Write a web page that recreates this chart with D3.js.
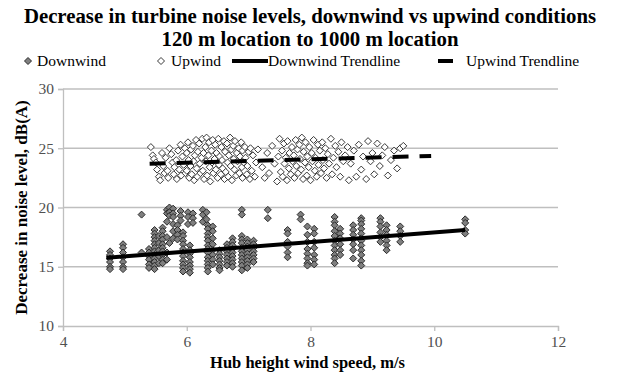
<!DOCTYPE html>
<html>
<head>
<meta charset="utf-8">
<script src="https://cdn.jsdelivr.net/npm/d3@7"></script>
<style>
  body { margin: 0; background: #fff; }
  svg { display: block; }
</style>
</head>
<body>
<svg id="chart" width="619" height="381"></svg>
<script>
// Titles and axis texts
const titleLines = ["Decrease in turbine noise levels, downwind vs upwind conditions",
                    "120 m location to 1000 m location"];
const xTitle = "Hub height wind speed, m/s";
const yTitle = "Decrease in noise level, dB(A)";
const xTicks = [4, 6, 8, 10, 12];
const yTicks = [10, 15, 20, 25, 30];
const legendLabels = ["Downwind", "Upwind", "Downwind Trendline", "Upwind Trendline"];

// Downwind measurements: [hub height wind speed (m/s), decrease (dB(A))]
const downwind = [
  [4.76,16.3],[4.76,16.0],[4.76,15.7],[4.76,15.4],[4.76,15.0],[4.76,14.8],
  [4.97,16.9],[4.97,16.6],[4.97,16.2],[4.97,15.8],[4.97,15.4],[4.97,15.0],[4.97,14.8],
  [5.27,19.4],[5.27,16.2],
  [5.39,16.5],[5.39,16.2],[5.39,15.9],[5.39,15.6],[5.39,15.2],[5.39,14.9],
  [5.48,18.1],[5.48,17.8],[5.48,17.5],[5.48,17.2],[5.48,16.9],[5.48,16.6],[5.48,16.3],[5.48,16.0],[5.48,15.7],[5.48,15.4],[5.48,15.1],[5.48,14.8],
  [5.55,17.6],[5.55,17.0],[5.55,16.4],[5.55,15.9],[5.55,15.3],
  [5.61,18.3],[5.61,18.0],[5.61,17.6],[5.61,17.3],[5.61,16.9],[5.61,16.6],[5.61,16.3],[5.61,16.0],[5.61,15.6],[5.61,15.3],
  [5.68,19.8],[5.68,19.5],[5.68,18.8],[5.68,17.5],[5.68,16.2],[5.68,15.6],
  [5.72,20.0],[5.72,19.6],[5.72,19.3],[5.72,17.0],
  [5.78,19.9],[5.78,19.5],[5.78,19.2],[5.78,18.6],[5.78,18.0],[5.78,17.4],
  [5.85,18.5],[5.85,18.1],[5.85,17.7],[5.85,17.3],
  [5.90,19.7],[5.90,19.3],[5.90,18.9],
  [5.94,17.9],[5.94,17.6],[5.94,17.2],[5.94,16.9],[5.94,16.5],[5.94,16.2],[5.94,15.9],[5.94,15.5],[5.94,15.2],[5.94,14.9],[5.94,14.6],
  [6.02,19.6],[6.02,19.2],[6.02,18.6],
  [6.05,16.8],[6.05,16.4],[6.05,16.1],[6.05,15.8],[6.05,15.4],[6.05,15.1],[6.05,14.8],[6.05,14.5],
  [6.10,19.5],[6.10,19.1],[6.10,18.7],
  [6.26,19.8],[6.26,19.4],[6.26,18.8],
  [6.32,19.6],[6.32,19.0],
  [6.34,18.5],[6.34,18.2],[6.34,17.8],[6.34,17.5],[6.34,17.2],[6.34,16.8],[6.34,16.5],[6.34,16.2],[6.34,15.8],[6.34,15.5],[6.34,15.2],[6.34,14.9],[6.34,14.6],
  [6.42,18.4],[6.42,18.0],[6.42,17.4],[6.42,16.9],[6.42,16.4],[6.42,16.0],[6.42,15.6],[6.42,15.2],
  [6.53,16.4],[6.53,16.1],[6.53,15.8],[6.53,15.5],[6.53,15.2],[6.53,14.9],[6.53,14.7],
  [6.65,16.9],[6.65,16.6],[6.65,16.3],[6.65,16.0],[6.65,15.7],[6.65,15.4],[6.65,15.1],
  [6.74,17.4],[6.74,17.1],[6.74,16.8],[6.74,16.5],[6.74,16.2],[6.74,15.9],[6.74,15.6],[6.74,15.3],[6.74,15.0],
  [6.89,19.8],[6.89,19.4],[6.89,17.6],[6.89,17.3],[6.89,17.0],[6.89,16.6],[6.89,16.3],[6.89,16.0],[6.89,15.7],[6.89,15.4],[6.89,15.1],[6.89,14.7],
  [6.98,17.3],[6.98,17.0],[6.98,16.7],[6.98,16.4],[6.98,16.1],[6.98,15.8],[6.98,15.5],[6.98,15.2],[6.98,14.9],
  [7.08,17.2],[7.08,16.9],[7.08,16.6],[7.08,16.3],[7.08,16.0],[7.08,15.7],[7.08,15.4],
  [7.31,19.8],[7.31,19.1],
  [7.63,18.1],[7.63,17.8],[7.63,17.1],[7.63,16.7],[7.63,16.2],[7.63,15.8],
  [7.84,19.4],[7.84,19.0],
  [7.95,18.4],[7.95,17.7],[7.95,17.1],[7.95,16.5],[7.95,16.1],[7.95,15.7],[7.95,15.3],[7.95,15.1],
  [8.06,18.2],[8.06,17.8],[8.06,17.1],[8.06,16.6],[8.06,16.0],[8.06,15.6],[8.06,15.2],
  [8.39,19.2],[8.39,18.8],[8.39,18.5],[8.39,18.0],[8.39,17.6],[8.39,17.2],[8.39,16.8],[8.39,16.4],[8.39,16.0],[8.39,15.7],[8.39,15.3],
  [8.48,18.2],[8.48,17.8],[8.48,17.4],[8.48,16.9],[8.48,16.4],[8.48,16.0],
  [8.69,18.5],[8.69,18.1],[8.69,17.7],[8.69,17.3],[8.69,16.9],[8.69,16.4],[8.69,15.7],
  [8.82,19.1],[8.82,18.9],[8.82,18.6],[8.82,18.2],[8.82,17.8],[8.82,17.4],[8.82,17.2],[8.82,16.8],[8.82,16.4],[8.82,16.0],[8.82,15.5],[8.82,15.1],
  [9.13,19.1],[9.13,18.8],[9.13,18.4],[9.13,17.9],[9.13,17.5],[9.13,17.1],
  [9.23,18.5],[9.23,18.1],[9.23,17.7],[9.23,17.2],[9.23,16.8],[9.23,16.4],
  [9.45,18.4],[9.45,18.0],[9.45,17.6],[9.45,17.1],
  [10.5,19.0],[10.5,18.7],[10.5,18.1],[10.5,17.8]
];

// Upwind measurements: [hub height wind speed (m/s), decrease (dB(A))]
const upwind = [
  [5.42,25.1],[5.45,24.4],[5.47,24.1],[5.50,23.8],[5.52,23.2],[5.55,22.6],[5.57,22.3],[5.60,24.6],
  [5.62,23.5],[5.64,22.9],[5.66,24.2],[5.69,23.1],[5.70,22.5],[5.72,25.0],
  [5.75,24.5],[5.77,23.8],[5.79,22.8],[5.80,23.4],[5.83,24.0],[5.84,22.4],[5.86,24.8],[5.88,23.2],
  [5.90,25.3],[5.91,22.7],[5.93,24.3],[5.95,23.6],[5.97,25.0],[5.98,22.9],[6.00,24.6],[6.00,23.1],
  [6.02,25.5],[6.03,24.0],[6.04,22.5],[6.06,23.5],[6.07,24.9],[6.08,22.8],[6.10,25.2],[6.11,23.9],
  [6.12,22.3],[6.13,24.4],[6.15,25.7],[6.16,23.3],[6.17,22.6],[6.18,24.7],[6.20,25.4],[6.21,23.7],
  [6.22,22.9],[6.24,24.2],[6.25,25.8],[6.26,23.1],[6.27,24.6],[6.28,22.4],[6.30,25.1],[6.31,23.9],
  [6.32,25.9],[6.33,22.7],[6.35,24.4],[6.36,25.5],[6.37,23.4],[6.38,22.2],[6.40,24.8],[6.41,23.8],
  [6.42,25.7],[6.43,22.9],[6.45,24.1],[6.46,25.3],[6.47,23.2],[6.48,24.6],[6.50,22.5],[6.51,25.8],
  [6.52,23.6],[6.53,24.3],[6.55,22.8],[6.56,25.1],[6.57,24.0],[6.58,23.3],[6.60,25.6],[6.61,22.4],
  [6.62,24.7],[6.63,23.0],[6.65,25.4],[6.66,23.8],[6.67,22.6],[6.68,24.4],[6.70,25.9],[6.71,23.5],
  [6.72,24.9],[6.73,22.3],[6.75,25.2],[6.76,24.1],[6.77,23.2],[6.78,25.6],[6.80,22.7],[6.81,24.6],
  [6.82,23.9],[6.84,25.0],[6.85,22.9],[6.86,24.3],[6.88,25.5],[6.89,23.4],[6.90,24.8],[6.90,22.5],
  [6.92,23.8],[6.94,25.1],[6.95,24.2],[6.97,22.8],[6.98,23.5],[7.00,24.7],[7.02,22.4],[7.03,25.0],
  [7.05,23.1],[7.07,24.4],[7.10,22.6],[7.12,23.8],[7.15,24.9],
  [7.22,23.4],[7.26,22.5],[7.30,24.6],[7.33,22.9],[7.38,25.2],[7.42,23.7],[7.46,22.2],[7.48,24.3],
  [7.50,25.8],[7.52,23.0],[7.54,24.8],[7.55,22.6],[7.57,25.4],[7.58,23.7],[7.60,24.2],[7.62,22.3],
  [7.63,25.6],[7.65,23.3],[7.66,24.6],[7.68,22.8],[7.70,25.1],[7.71,23.9],[7.73,24.4],[7.74,22.5],
  [7.76,25.7],[7.77,23.5],[7.79,24.9],[7.80,22.9],[7.82,25.3],[7.83,24.1],[7.85,23.2],[7.86,25.9],
  [7.88,22.4],[7.89,24.7],[7.91,23.8],[7.92,25.5],[7.94,22.7],[7.95,24.3],[7.97,23.4],[7.98,25.1],
  [8.00,22.3],[8.02,24.6],[8.03,23.9],[8.05,25.7],[8.07,23.1],[8.08,24.2],[8.10,22.6],[8.12,25.3],
  [8.13,23.6],[8.15,24.8],[8.17,22.9],[8.19,25.5],[8.20,24.0],[8.22,23.3],[8.24,25.0],[8.26,22.5],
  [8.28,24.5],[8.30,23.7],[8.33,25.8],[8.35,22.8],[8.37,24.2],[8.40,25.2],[8.42,23.4],[8.45,24.7],
  [8.48,22.6],[8.50,25.5],[8.53,23.9],[8.56,24.4],
  [8.60,25.1],[8.62,22.3],[8.65,23.7],[8.70,24.8],[8.74,22.6],[8.78,25.3],[8.82,23.2],[8.85,24.3],
  [8.90,22.4],[8.93,25.6],[8.97,23.9],[9.00,24.6],[9.03,22.8],[9.08,25.4],[9.12,23.5],[9.16,24.4],
  [9.20,25.1],[9.25,22.7],[9.30,24.0],[9.35,24.8],[9.40,23.3],[9.45,25.0],[9.50,25.2]
];

// Linear trendline end points
const downwindTrend = [[4.7, 15.75], [10.5, 18.1]];
const upwindTrend = [[5.4, 23.7], [9.95, 24.35]];

const svg = d3.select("#chart");
const margin = { left: 63, right: 61, top: 89, bottom: 55 };
const W = 619, H = 381;

const x = d3.scaleLinear().domain([4, 12]).range([margin.left, W - margin.right]);
const y = d3.scaleLinear().domain([10, 30]).range([H - margin.bottom, margin.top]);

const serif = "'Liberation Serif', 'Times New Roman', serif";
const gridColor = "#bfbfbf";
const markerR = 3.5;

// Horizontal gridlines
svg.append("g").selectAll("line")
  .data(yTicks.filter(t => t > 10))
  .join("line")
  .attr("x1", x(4)).attr("x2", x(12))
  .attr("y1", d => y(d)).attr("y2", d => y(d))
  .attr("stroke", gridColor).attr("stroke-width", 1.3);

// Axes
const xAxis = svg.append("g")
  .attr("transform", `translate(0,${y(10)})`)
  .call(d3.axisBottom(x).tickValues(xTicks).tickSize(5).tickPadding(5).tickFormat(d3.format("d")));
const yAxis = svg.append("g")
  .attr("transform", `translate(${x(4)},0)`)
  .call(d3.axisLeft(y).tickValues(yTicks).tickSize(5).tickPadding(4).tickFormat(d3.format("d")));

[xAxis, yAxis].forEach(g => {
  g.select(".domain").attr("stroke", gridColor).attr("stroke-width", 1.3);
  g.selectAll(".tick line").attr("stroke", gridColor).attr("stroke-width", 1.3);
  g.selectAll(".tick text").attr("font-family", serif).attr("font-size", 15.5).attr("fill", "#505050");
});

// Diamond marker shape
const diamond = r => `M0,${-r}L${r},0L0,${r}L${-r},0Z`;

// Upwind points (open diamonds)
svg.append("g").selectAll("path")
  .data(upwind)
  .join("path")
  .attr("d", diamond(markerR))
  .attr("transform", d => `translate(${x(d[0])},${y(d[1])})`)
  .attr("fill", "#ffffff").attr("stroke", "#3a3a3a").attr("stroke-width", 1);

// Downwind points (grey diamonds)
svg.append("g").selectAll("path")
  .data(downwind)
  .join("path")
  .attr("d", diamond(markerR))
  .attr("transform", d => `translate(${x(d[0])},${y(d[1])})`)
  .attr("fill", "#7f7f7f").attr("stroke", "#2b2b2b").attr("stroke-width", 1);

// Trendlines
const line = d3.line().x(d => x(d[0])).y(d => y(d[1]));
svg.append("path").datum(downwindTrend).attr("d", line)
  .attr("fill", "none").attr("stroke", "#000").attr("stroke-width", 4);
svg.append("path").datum(upwindTrend).attr("d", line)
  .attr("fill", "none").attr("stroke", "#000").attr("stroke-width", 4)
  .attr("stroke-dasharray", "16,11");

// Title
svg.append("g").selectAll("text")
  .data(titleLines)
  .join("text")
  .attr("x", 310).attr("y", (d, i) => 23 + i * 23)
  .attr("text-anchor", "middle")
  .attr("font-family", serif).attr("font-weight", "bold").attr("font-size", 20.8)
  .attr("fill", "#000")
  .text(d => d);

// Legend
const legendY = 62;
const lg = svg.append("g").attr("font-family", serif).attr("font-size", 15.5).attr("fill", "#000");
lg.append("path").attr("d", diamond(markerR)).attr("transform", `translate(28,${legendY - 1})`)
  .attr("fill", "#7f7f7f").attr("stroke", "#2b2b2b");
lg.append("text").attr("x", 37).attr("y", legendY + 4).text(legendLabels[0]);
lg.append("path").attr("d", diamond(markerR)).attr("transform", `translate(161,${legendY - 1})`)
  .attr("fill", "#fff").attr("stroke", "#3a3a3a");
lg.append("text").attr("x", 171).attr("y", legendY + 4).text(legendLabels[1]);
lg.append("line").attr("x1", 232).attr("x2", 268).attr("y1", legendY - 1).attr("y2", legendY - 1)
  .attr("stroke", "#000").attr("stroke-width", 4);
lg.append("text").attr("x", 268).attr("y", legendY + 4).text(legendLabels[2]);
lg.append("line").attr("x1", 438).attr("x2", 453).attr("y1", legendY - 1).attr("y2", legendY - 1)
  .attr("stroke", "#000").attr("stroke-width", 4);
lg.append("text").attr("x", 466).attr("y", legendY + 4).text(legendLabels[3]);

// Axis titles
svg.append("text")
  .attr("x", (x(4) + x(12)) / 2 - 3).attr("y", 368)
  .attr("text-anchor", "middle")
  .attr("font-family", serif).attr("font-weight", "bold").attr("font-size", 16.5)
  .text(xTitle);
svg.append("text")
  .attr("transform", `translate(27,${(y(10) + y(30)) / 2}) rotate(-90)`)
  .attr("text-anchor", "middle")
  .attr("font-family", serif).attr("font-weight", "bold").attr("font-size", 17)
  .text(yTitle);
</script>
</body>
</html>
